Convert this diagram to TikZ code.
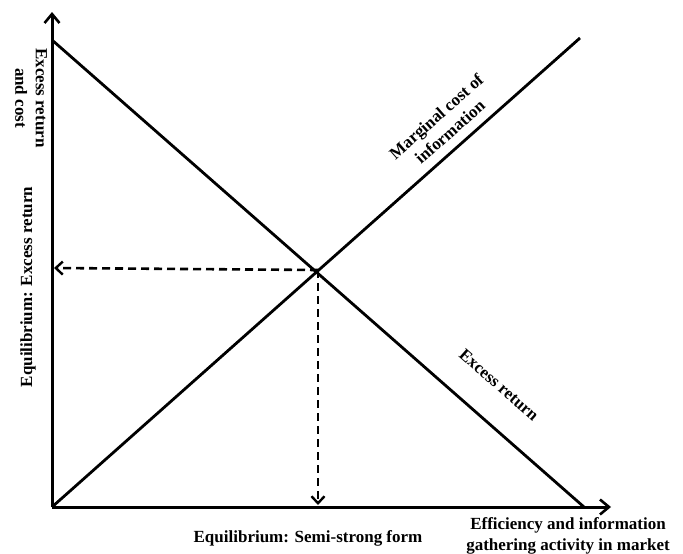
\documentclass[tikz,border=0pt]{standalone}
\usepackage{fontspec}
\setmainfont{Liberation Serif}
\usetikzlibrary{arrows.meta}
\begin{document}
\begin{tikzpicture}[x=1pt,y=-1pt,
  axis/.style={line width=3pt,-{Straight Barb[length=9pt,width=15pt,line width=2.6pt]}},
  curve/.style={line width=2.8pt},
  guide/.style={line width=2.6pt,dash pattern=on 8pt off 5pt,-{Straight Barb[length=7pt,width=13pt,line width=2.4pt]}},
  lbl/.style={font=\bfseries\fontsize{17}{20.5}\selectfont,align=center,inner sep=0pt}]
\useasboundingbox (0,0) rectangle (683,554);
\coordinate (O) at (52,507);
\coordinate (Ytop) at (52,12);
\coordinate (Xend) at (611,507);
\coordinate (Etop) at (52,40);
\coordinate (Eend) at (584,507);
\coordinate (Mend) at (580,38);
\coordinate (X) at (318,270);
\coordinate (Yhit) at (54,268);
\coordinate (Xhit) at (318,505);
\draw[axis] (O) -- (Ytop);
\draw[axis] (O) -- (Xend);
\draw[curve] (Etop) -- (Eend);
\draw[curve] (O) -- (Mend);
\draw[guide] (X) -- (Yhit);
\draw[guide] (X) -- (Xhit);
\node[lbl,rotate=-90] (ylab) at (31,98) {Excess return\\and cost};
\node[lbl,rotate=90] (eqer) at (28,287) {Equilibrium: Excess return};
\node[lbl,rotate=41.6] (mc) at (443,124) {Marginal cost of\\information};
\node[lbl,rotate=-41.4] (er) at (499,385) {Excess return};
\node[lbl] (eqss) at (308,538) {Equilibrium: Semi-strong form};
\node[lbl] (xlab) at (568,536) {Efficiency and information\\gathering activity in market};
\end{tikzpicture}
\end{document}
